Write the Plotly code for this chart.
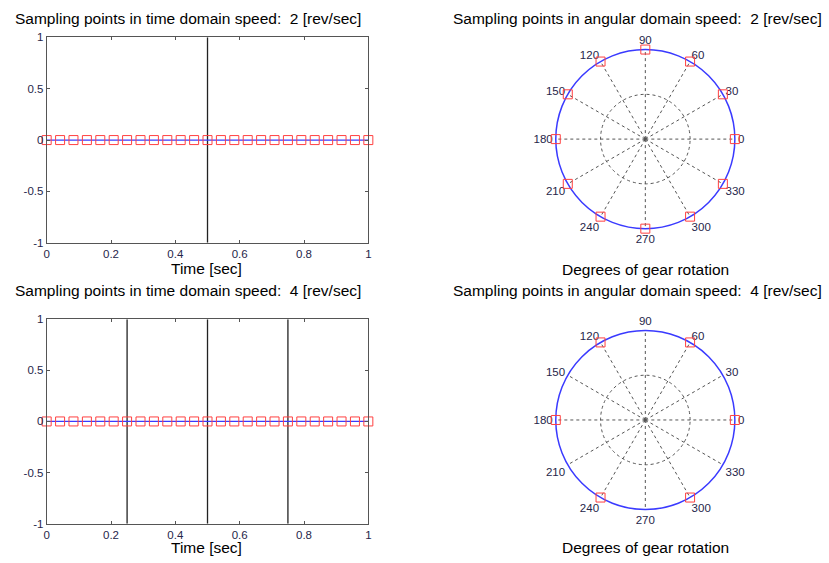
import plotly.graph_objects as go

# ---- data ----
sample_times = [0/24, 1/24, 2/24, 3/24, 4/24, 5/24, 6/24, 7/24, 8/24, 9/24, 10/24, 11/24,
                12/24, 13/24, 14/24, 15/24, 16/24, 17/24, 18/24, 19/24, 20/24, 21/24,
                22/24, 23/24, 24/24]
sample_values = [0] * 25
line_times = [0, 1]
line_values = [0, 0]
rev_bounds_2 = [0.5]
rev_bounds_4 = [0.25, 0.5, 0.75]
angles_2 = [0, 30, 60, 90, 120, 150, 180, 210, 240, 270, 300, 330]
angles_4 = [0, 60, 120, 180, 240, 300]
radius_2 = [1] * 12
radius_4 = [1] * 6
x_ticks = [0, 0.2, 0.4, 0.6, 0.8, 1]
x_ticklabels = ["0", "0.2", "0.4", "0.6", "0.8", "1"]
y_ticks = [-1, -0.5, 0, 0.5, 1]
y_ticklabels = ["-1", "-0.5", "0", "0.5", "1"]
ang_ticks = [0, 30, 60, 90, 120, 150, 180, 210, 240, 270, 300, 330]
ang_ticklabels = ["0", "30", "60", "90", "120", "150", "180", "210", "240", "270", "300", "330"]
titles = ["Sampling points in time domain speed:  2 [rev/sec]",
          "Sampling points in angular domain speed:  2 [rev/sec]",
          "Sampling points in time domain speed:  4 [rev/sec]",
          "Sampling points in angular domain speed:  4 [rev/sec]"]

W, H = 829, 563
FONT = "Liberation Sans, Arial, sans-serif"
TICKCOL = "#26264a"

fig = go.Figure()

def px_x(p):
    return p / W

def px_y(p):
    return 1 - p / H

# time-domain panels
for bounds, ax in [(rev_bounds_2, ""), (rev_bounds_4, "2")]:
    xa = "x" + ax
    ya = "y" + ax
    for b in bounds:
        fig.add_trace(go.Scatter(x=[b, b], y=[-1, 1], mode="lines",
                                 line=dict(color="#222222", width=1.3),
                                 xaxis=xa, yaxis=ya, showlegend=False, hoverinfo="skip"))
    fig.add_trace(go.Scatter(x=line_times, y=line_values, mode="lines",
                             line=dict(color="#3a3aff", width=1.3),
                             xaxis=xa, yaxis=ya, showlegend=False))
    fig.add_trace(go.Scatter(x=sample_times, y=sample_values, mode="markers",
                             marker=dict(symbol="square-open", size=9, color="#ff4040",
                                         line=dict(width=1)),
                             cliponaxis=False,
                             xaxis=xa, yaxis=ya, showlegend=False))

axis_common = dict(showline=True, mirror="ticks", linecolor="#555555", linewidth=1,
                   ticks="inside", ticklen=3, tickcolor="#555555", showgrid=False,
                   zeroline=False, tickfont=dict(family=FONT, size=11.5, color=TICKCOL))

top = (32, 242)
bot = (320, 529)
xdom = [px_x(44), px_x(368)]
fig.update_layout(
    xaxis=dict(domain=xdom, range=[0, 1], tickvals=x_ticks, ticktext=x_ticklabels,
               anchor="y", ticklabelstandoff=0, **axis_common),
    yaxis=dict(domain=[px_y(top[1]), px_y(top[0])], range=[-1, 1], tickvals=y_ticks,
               ticktext=y_ticklabels, anchor="x", ticklabelstandoff=0, **axis_common),
    xaxis2=dict(domain=xdom, range=[0, 1], tickvals=x_ticks, ticktext=x_ticklabels,
                anchor="y2", ticklabelstandoff=0, **axis_common),
    yaxis2=dict(domain=[px_y(bot[1]), px_y(bot[0])], range=[-1, 1], tickvals=y_ticks,
                ticktext=y_ticklabels, anchor="x2", ticklabelstandoff=0, **axis_common),
)

# polar panels
def polar_layout(cy):
    r = 91.5
    cx = 647
    return dict(
        domain=dict(x=[px_x(cx - r), px_x(cx + r)], y=[px_y(cy + r), px_y(cy - r)]),
        bgcolor="white",
        radialaxis=dict(range=[0, 1], tickvals=[0.5], showticklabels=False, ticks="",
                        showline=False, gridcolor="#555555", griddash="dot", gridwidth=1,
                        layer="below traces"),
        angularaxis=dict(rotation=0, direction="counterclockwise",
                         tickvals=ang_ticks, ticktext=ang_ticklabels,
                         showline=True, linecolor="#3a3aff", linewidth=1.5,
                         gridcolor="#555555", griddash="dot", gridwidth=1, ticks="",
                         layer="below traces",
                         tickfont=dict(family=FONT, size=11.5, color=TICKCOL)),
    )

fig.add_trace(go.Scatterpolar(r=radius_2, theta=angles_2, mode="markers",
                              marker=dict(symbol="square-open", size=9, color="#ff4040",
                                          line=dict(width=1)),
                              cliponaxis=False, subplot="polar", showlegend=False))
fig.add_trace(go.Scatterpolar(r=radius_4, theta=angles_4, mode="markers",
                              marker=dict(symbol="square-open", size=9, color="#ff4040",
                                          line=dict(width=1)),
                              cliponaxis=False, subplot="polar2", showlegend=False))

fig.update_layout(polar=polar_layout(136), polar2=polar_layout(423))

annotations = []
def ann(text, x, y):
    annotations.append(dict(text=text, x=px_x(x), y=px_y(y), xref="paper", yref="paper",
                            showarrow=False, xanchor="center", yanchor="middle",
                            font=dict(family=FONT, size=15.5, color="black")))

ann(titles[0], 186, 13)
ann(titles[1], 639, 13)
ann(titles[2], 186, 291)
ann(titles[3], 639, 291)
ann("Time [sec]", 205, 268)
ann("Time [sec]", 205, 553)
ann("Degrees of gear rotation", 647, 269)
ann("Degrees of gear rotation", 647, 553)

fig.update_layout(width=W, height=H, margin=dict(l=0, r=0, t=0, b=0),
                  paper_bgcolor="white", plot_bgcolor="white",
                  annotations=annotations)

fig.write_html("out.html")
